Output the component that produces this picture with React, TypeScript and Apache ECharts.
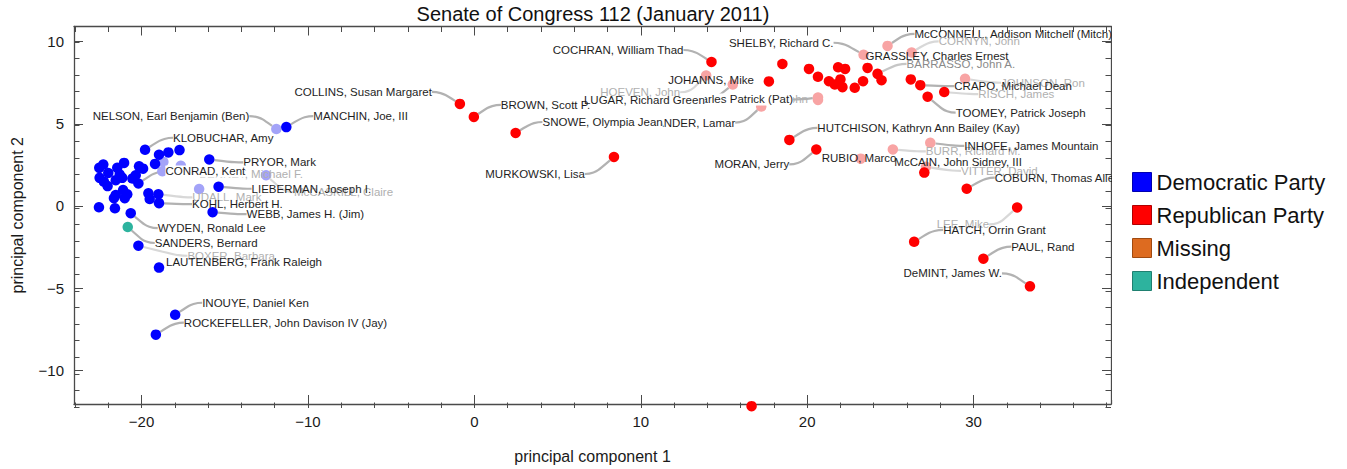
import React, { useEffect, useRef } from 'react';
import * as echarts from 'echarts';

type Pt = [number, number, string];

const TITLE = 'Senate of Congress 112 (January 2011)';
const X_NAME = 'principal component 1';
const Y_NAME = 'principal component 2';
const X_MAJOR = [-20, -10, 0, 10, 20, 30];
const X_MINOR = [-24, -22, -20, -18, -16, -14, -12, -10, -8, -6, -4, -2, 0, 2, 4, 6, 8, 10, 12, 14, 16, 18, 20, 22, 24, 26, 28, 30, 32, 34, 36, 38];
const Y_MAJOR = [-10, -5, 0, 5, 10];
const Y_MINOR = [-12, -11, -10, -9, -8, -7, -6, -5, -4, -3, -2, -1, 0, 1, 2, 3, 4, 5, 6, 7, 8, 9, 10];
const PARTIES = ['Democratic Party', 'Republican Party', 'Missing', 'Independent'];

// [pc1, pc2, name]
const democratic: Pt[] = [
  [-19.79, 3.42, 'KLOBUCHAR, Amy'],
  [-18.95, 3.12, ''],
  [-18.39, 3.26, ''],
  [-17.72, 3.4, ''],
  [-15.93, 2.83, 'PRYOR, Mark'],
  [-22.54, 2.32, ''],
  [-22.3, 2.52, ''],
  [-22.0, 2.01, ''],
  [-21.46, 2.32, ''],
  [-21.05, 2.62, ''],
  [-21.31, 1.91, ''],
  [-22.52, 1.71, ''],
  [-22.04, 1.21, ''],
  [-21.55, 1.57, ''],
  [-21.16, 1.71, ''],
  [-20.55, 1.67, ''],
  [-20.15, 2.41, ''],
  [-19.91, 2.27, ''],
  [-19.19, 2.56, ''],
  [-20.19, 1.37, 'CONRAD, Kent'],
  [-21.55, 0.67, ''],
  [-21.11, 0.97, ''],
  [-20.86, 0.71, ''],
  [-21.66, 0.47, ''],
  [-19.59, 0.77, ''],
  [-18.99, 0.71, 'UDALL, Mark'],
  [-19.51, 0.42, ''],
  [-18.95, 0.17, 'KOHL, Herbert H.'],
  [-22.56, -0.08, ''],
  [-21.6, -0.14, ''],
  [-20.65, -0.44, 'WYDEN, Ronald Lee'],
  [-15.37, 1.17, 'LIEBERMAN, Joseph I.'],
  [-15.73, -0.38, 'WEBB, James H. (Jim)'],
  [-20.19, -2.42, 'BOXER, Barbara'],
  [-18.95, -3.75, 'LAUTENBERG, Frank Raleigh'],
  [-17.98, -6.62, 'INOUYE, Daniel Ken'],
  [-19.14, -7.83, 'ROCKEFELLER, John Davison IV (Jay)'],
  [-11.3, 4.8, 'MANCHIN, Joe, III'],
  [-22.26, 1.47, ''],
  [-21.01, 0.47, ''],
  [-20.35, 1.87, ''],
];
const democraticPale: Pt[] = [
  [-11.9, 4.68, 'NELSON, Earl Benjamin (Ben)'],
  [-18.69, 2.68, ''],
  [-18.75, 2.11, 'BENNET, Michael F.'],
  [-17.64, 2.44, ''],
  [-16.54, 1.03, ''],
  [-12.52, 1.87, 'McCASKILL, Claire'],
];
const republican: Pt[] = [
  [14.25, 8.76, 'COCHRAN, William Thad'],
  [-0.87, 6.21, 'COLLINS, Susan Margaret'],
  [-0.03, 5.42, 'BROWN, Scott P.'],
  [2.48, 4.44, 'SNOWE, Olympia Jean'],
  [8.39, 2.98, 'MURKOWSKI, Lisa'],
  [17.7, 7.58, 'JOHANNS, Mike'],
  [18.51, 8.64, ''],
  [20.11, 8.34, ''],
  [20.65, 7.86, ''],
  [21.31, 7.59, ''],
  [21.86, 8.44, ''],
  [22.28, 8.34, ''],
  [22.0, 7.7, ''],
  [21.66, 7.39, ''],
  [22.12, 7.23, ''],
  [22.86, 7.19, ''],
  [23.36, 7.59, ''],
  [23.63, 8.4, 'GRASSLEY, Charles Ernest'],
  [24.23, 8.04, 'BARRASSO, John A.'],
  [24.47, 7.65, ''],
  [26.23, 7.7, ''],
  [26.8, 7.35, 'CRAPO, Michael Dean'],
  [27.24, 6.65, 'TOOMEY, Patrick Joseph'],
  [28.24, 6.93, 'RISCH, James'],
  [18.93, 4.02, 'HUTCHISON, Kathryn Ann Bailey (Kay)'],
  [20.55, 3.44, 'MORAN, Jerry'],
  [27.04, 2.03, 'McCAIN, John Sidney, III'],
  [29.59, 1.05, 'COBURN, Thomas Allen'],
  [32.62, -0.09, 'LEE, Mike'],
  [26.43, -2.18, 'HATCH, Orrin Grant'],
  [30.59, -3.21, 'PAUL, Rand'],
  [33.39, -4.89, 'DeMINT, James W.'],
  [16.66, -12.18, ''],
];
const republicanPale: Pt[] = [
  [20.65, 6.45, 'THUNE, John'],
  [20.65, 6.6, 'ROBERTS, Charles Patrick (Pat)'],
  [15.53, 7.39, 'LUGAR, Richard Green'],
  [13.93, 7.94, 'HOEVEN, John'],
  [23.39, 9.2, 'SHELBY, Richard C.'],
  [24.83, 9.74, 'McCONNELL, Addison Mitchell (Mitch)'],
  [26.28, 9.34, 'CORNYN, John'],
  [29.49, 7.74, 'JOHNSON, Ron'],
  [17.24, 6.05, 'ALEXANDER, Lamar'],
  [23.22, 2.88, 'RUBIO, Marco'],
  [25.15, 3.44, 'BURR, Richard M.'],
  [27.4, 3.84, 'INHOFE, James Mountain'],
  [27.14, 2.38, 'VITTER, David'],
];
const independent: Pt[] = [[-20.83, -1.28, 'SANDERS, Bernard']];
const missing: Pt[] = [];

// label placement (pixels from the point): dx, dy, text anchor side, tone, leader line, opaque backing
type Lay = [number, number, 'l' | 'r', 'd' | 'f' | 'g', 0 | 1, 0 | 1];
const LABEL_LAYOUT: Record<string, Lay> = {
  'KLOBUCHAR, Amy': [28, -12, 'l', 'd', 1, 0],
  'PRYOR, Mark': [34, 3, 'l', 'd', 1, 0],
  'CONRAD, Kent': [27, -12, 'l', 'd', 1, 1],
  'BENNET, Michael F.': [37, 3, 'l', 'f', 1, 0],
  'LIEBERMAN, Joseph I.': [33, 2, 'l', 'd', 1, 0],
  'McCASKILL, Claire': [28, 17, 'l', 'f', 1, 0],
  'UDALL, Mark': [34, 3, 'l', 'f', 1, 0],
  'KOHL, Herbert H.': [33, 1, 'l', 'd', 1, 0],
  'WEBB, James H. (Jim)': [34, 2, 'l', 'd', 1, 0],
  'WYDEN, Ronald Lee': [27, 15, 'l', 'd', 1, 0],
  'SANDERS, Bernard': [27, 16, 'l', 'd', 1, 0],
  'BOXER, Barbara': [49, 10, 'l', 'f', 1, 0],
  'LAUTENBERG, Frank Raleigh': [7, -6, 'l', 'd', 0, 0],
  'INOUYE, Daniel Ken': [27, -12, 'l', 'd', 1, 0],
  'ROCKEFELLER, John Davison IV (Jay)': [28, -12, 'l', 'd', 1, 0],
  'NELSON, Earl Benjamin (Ben)': [-27, -13, 'r', 'd', 1, 0],
  'MANCHIN, Joe, III': [27, -11, 'l', 'd', 1, 0],
  'COLLINS, Susan Margaret': [-28, -12, 'r', 'd', 1, 0],
  'BROWN, Scott P.': [27, -12, 'l', 'd', 1, 0],
  'SNOWE, Olympia Jean': [27, -11, 'l', 'd', 1, 1],
  'MURKOWSKI, Lisa': [-29, 17, 'r', 'd', 1, 0],
  'COCHRAN, William Thad': [-28, -12, 'r', 'd', 1, 0],
  'HOEVEN, John': [-26, 17, 'r', 'f', 1, 0],
  'JOHANNS, Mike': [-15, -1, 'r', 'd', 0, 0],
  'LUGAR, Richard Green': [-28, 15, 'r', 'd', 1, 1],
  'ROBERTS, Charles Patrick (Pat)': [-25, 2, 'r', 'd', 1, 1],
  'THUNE, John': [-10, -1, 'r', 'f', 0, 0],
  'ALEXANDER, Lamar': [-26, 16, 'r', 'd', 1, 0],
  'SHELBY, Richard C.': [-30, -12, 'r', 'd', 1, 0],
  'GRASSLEY, Charles Ernest': [-2, -12, 'l', 'd', 0, 0],
  'McCONNELL, Addison Mitchell (Mitch)': [27, -12, 'l', 'd', 1, 0],
  'CORNYN, John': [27, -11, 'l', 'f', 1, 0],
  'BARRASSO, John A.': [29, -10, 'l', 'g', 1, 0],
  'JOHNSON, Ron': [36, 4, 'l', 'f', 1, 0],
  'CRAPO, Michael Dean': [34, 1, 'l', 'd', 1, 0],
  'RISCH, James': [34, 2, 'l', 'f', 1, 0],
  'TOOMEY, Patrick Joseph': [28, 16, 'l', 'd', 1, 0],
  'HUTCHISON, Kathryn Ann Bailey (Kay)': [28, -12, 'l', 'd', 1, 0],
  'MORAN, Jerry': [-27, 15, 'r', 'd', 1, 0],
  'RUBIO, Marco': [-39, -1, 'l', 'd', 0, 0],
  'BURR, Richard M.': [33, 2, 'l', 'f', 1, 0],
  'INHOFE, James Mountain': [34, 3, 'l', 'd', 1, 0],
  'McCAIN, John Sidney, III': [-30, -11, 'l', 'd', 0, 0],
  'VITTER, David': [35, 4, 'l', 'f', 1, 0],
  'COBURN, Thomas Allen': [28, -11, 'l', 'd', 1, 0],
  'LEE, Mike': [-28, 17, 'r', 'f', 1, 0],
  'HATCH, Orrin Grant': [29, -12, 'l', 'd', 1, 0],
  'PAUL, Rand': [28, -12, 'l', 'd', 1, 0],
  'DeMINT, James W.': [-28, -13, 'r', 'd', 1, 0],
};

const FONT = '"Liberation Sans", Arial, Helvetica, sans-serif';
const TONE = { d: '#1e1e1e', f: '#b0b0b0', g: '#8a8a8a' };
const LINE_TONE = { d: '#b2b2b2', f: '#d8d8d8', g: '#c6c6c6' };
const COLORS = {
  dem: '#0000ff', demPale: '#a3a3f8',
  rep: '#ff0000', repPale: '#f8a4a4',
  missing: '#dd6b20', ind: '#2db39e',
};
const BORDERS = ['#0000b0', '#b00000', '#a04a10', '#1f8070'];
const AXIS_COLOR = '#4a4a4a';

const fmt = (v: number) => (v < 0 ? '\u2212' + Math.abs(v) : String(v));

function buildData(points: Pt[], color: string) {
  return points.map(([x, y, name]) => {
    const lay = LABEL_LAYOUT[name];
    const item: any = { value: [x, y], name, itemStyle: { color } };
    if (lay) {
      item.label = { show: true, color: TONE[lay[3]] };
      if (lay[5]) item.label.backgroundColor = '#ffffff';
      item.labelLine = lay[4]
        ? { show: true, lineStyle: { color: LINE_TONE[lay[3]] } }
        : { show: false };
    }
    return item;
  });
}

const labelLayout = (p: any) => {
  const lay = LABEL_LAYOUT[p.text];
  if (!lay) return {};
  const cx = p.rect.x + p.rect.width / 2;
  const cy = p.rect.y + p.rect.height / 2;
  return {
    x: cx + lay[0],
    y: cy + lay[1],
    align: lay[2] === 'l' ? 'left' : 'right',
    verticalAlign: 'middle',
  };
};

function scatter(name: string, color: string, data: any[]) {
  return {
    type: 'scatter',
    name,
    xAxisIndex: 0,
    yAxisIndex: 0,
    symbolSize: 10.5,
    clip: false,
    itemStyle: { color, opacity: 1 },
    emphasis: { disabled: true },
    label: { show: false, formatter: '{b}', fontSize: 11.5, fontFamily: FONT },
    labelLine: {
      show: false,
      smooth: 0.5,
      length2: 9,
      lineStyle: { width: 2.2, color: '#b2b2b2' },
    },
    labelLayout,
    data,
  };
}

const GRID = { left: 74, right: 236, top: 26.5, bottom: 61 };
const X_MIN = -24.06, X_MAX = 38.26, Y_MIN = -12.05, Y_MAX = 10.92;

function xAxis(gridIndex: number, position: string, major: boolean, labels: boolean): any {
  return {
    type: 'value',
    gridIndex,
    position,
    min: X_MIN,
    max: X_MAX,
    name: labels ? X_NAME : '',
    nameLocation: 'middle',
    nameGap: 44,
    nameTextStyle: { fontSize: 16, color: '#1a1a1a', fontFamily: FONT },
    splitLine: { show: false },
    axisLine: { show: major, onZero: false, lineStyle: { color: AXIS_COLOR, width: 1.3 } },
    axisTick: {
      show: true, inside: true, length: major ? 9 : 5.5,
      customValues: major ? X_MAJOR : X_MINOR,
      lineStyle: { color: AXIS_COLOR, width: 1 },
    },
    axisLabel: {
      show: labels, customValues: X_MAJOR, formatter: fmt, margin: 10,
      fontSize: 15, color: '#1a1a1a', fontFamily: FONT,
    },
  };
}

function yAxis(gridIndex: number, position: string, major: boolean, labels: boolean): any {
  return {
    type: 'value',
    gridIndex,
    position,
    min: Y_MIN,
    max: Y_MAX,
    name: labels ? Y_NAME : '',
    nameLocation: 'middle',
    nameGap: 49,
    nameTextStyle: { fontSize: 16, color: '#1a1a1a', fontFamily: FONT },
    splitLine: { show: false },
    axisLine: { show: major, onZero: false, lineStyle: { color: AXIS_COLOR, width: 1.3 } },
    axisTick: {
      show: true, inside: true, length: major ? 9 : 5.5,
      customValues: major ? Y_MAJOR : Y_MINOR,
      lineStyle: { color: AXIS_COLOR, width: 1 },
    },
    axisLabel: {
      show: labels, customValues: Y_MAJOR, formatter: fmt, margin: 10,
      fontSize: 15, color: '#1a1a1a', fontFamily: FONT,
    },
  };
}

export default function App() {
  const ref = useRef<HTMLDivElement>(null);
  useEffect(() => {
    if (!ref.current) return;
    const chart = echarts.init(ref.current, undefined, { renderer: 'svg' });
    const legendColors = [COLORS.dem, COLORS.rep, COLORS.missing, COLORS.ind];
    chart.setOption({
      animation: false,
      backgroundColor: '#ffffff',
      title: {
        text: TITLE,
        left: 593,
        top: 4,
        padding: 0,
        textAlign: 'center',
        textStyle: { fontSize: 20, fontWeight: 'normal', color: '#111', fontFamily: FONT },
      },
      legend: {
        orient: 'vertical',
        left: 1132,
        top: 171,
        padding: 0,
        itemWidth: 19,
        itemHeight: 19,
        itemGap: 11,
        icon: 'rect',
        selectedMode: false,
        textStyle: { fontSize: 22, color: '#111', fontFamily: FONT },
        data: PARTIES.map((n, i) => ({
          name: n,
          itemStyle: { color: legendColors[i], borderColor: BORDERS[i], borderWidth: 1 },
        })),
      },
      grid: [
        { ...GRID, containLabel: false },
        { ...GRID, containLabel: false },
      ],
      xAxis: [
        xAxis(0, 'bottom', true, true),
        xAxis(0, 'top', true, false),
        xAxis(1, 'bottom', false, false),
        xAxis(1, 'top', false, false),
      ],
      yAxis: [
        yAxis(0, 'left', true, true),
        yAxis(0, 'right', true, false),
        yAxis(1, 'left', false, false),
        yAxis(1, 'right', false, false),
      ],
      graphic: [
        {
          type: 'rect',
          z: 100,
          shape: { x: 1112, y: 0, width: 18, height: 400 },
          style: { fill: '#ffffff' },
        },
      ],
      series: [
        scatter(PARTIES[0], COLORS.dem, [
          ...buildData(democraticPale, COLORS.demPale),
          ...buildData(democratic, COLORS.dem),
        ]),
        scatter(PARTIES[1], COLORS.rep, [
          ...buildData(republicanPale, COLORS.repPale),
          ...buildData(republican, COLORS.rep),
        ]),
        scatter(PARTIES[2], COLORS.missing, buildData(missing, COLORS.missing)),
        scatter(PARTIES[3], COLORS.ind, buildData(independent, COLORS.ind)),
      ],
    });
    return () => chart.dispose();
  }, []);
  return (
    <div
      ref={ref}
      style={{ position: 'fixed', left: 0, top: 0, width: 1347, height: 469, background: '#fff' }}
    />
  );
}
